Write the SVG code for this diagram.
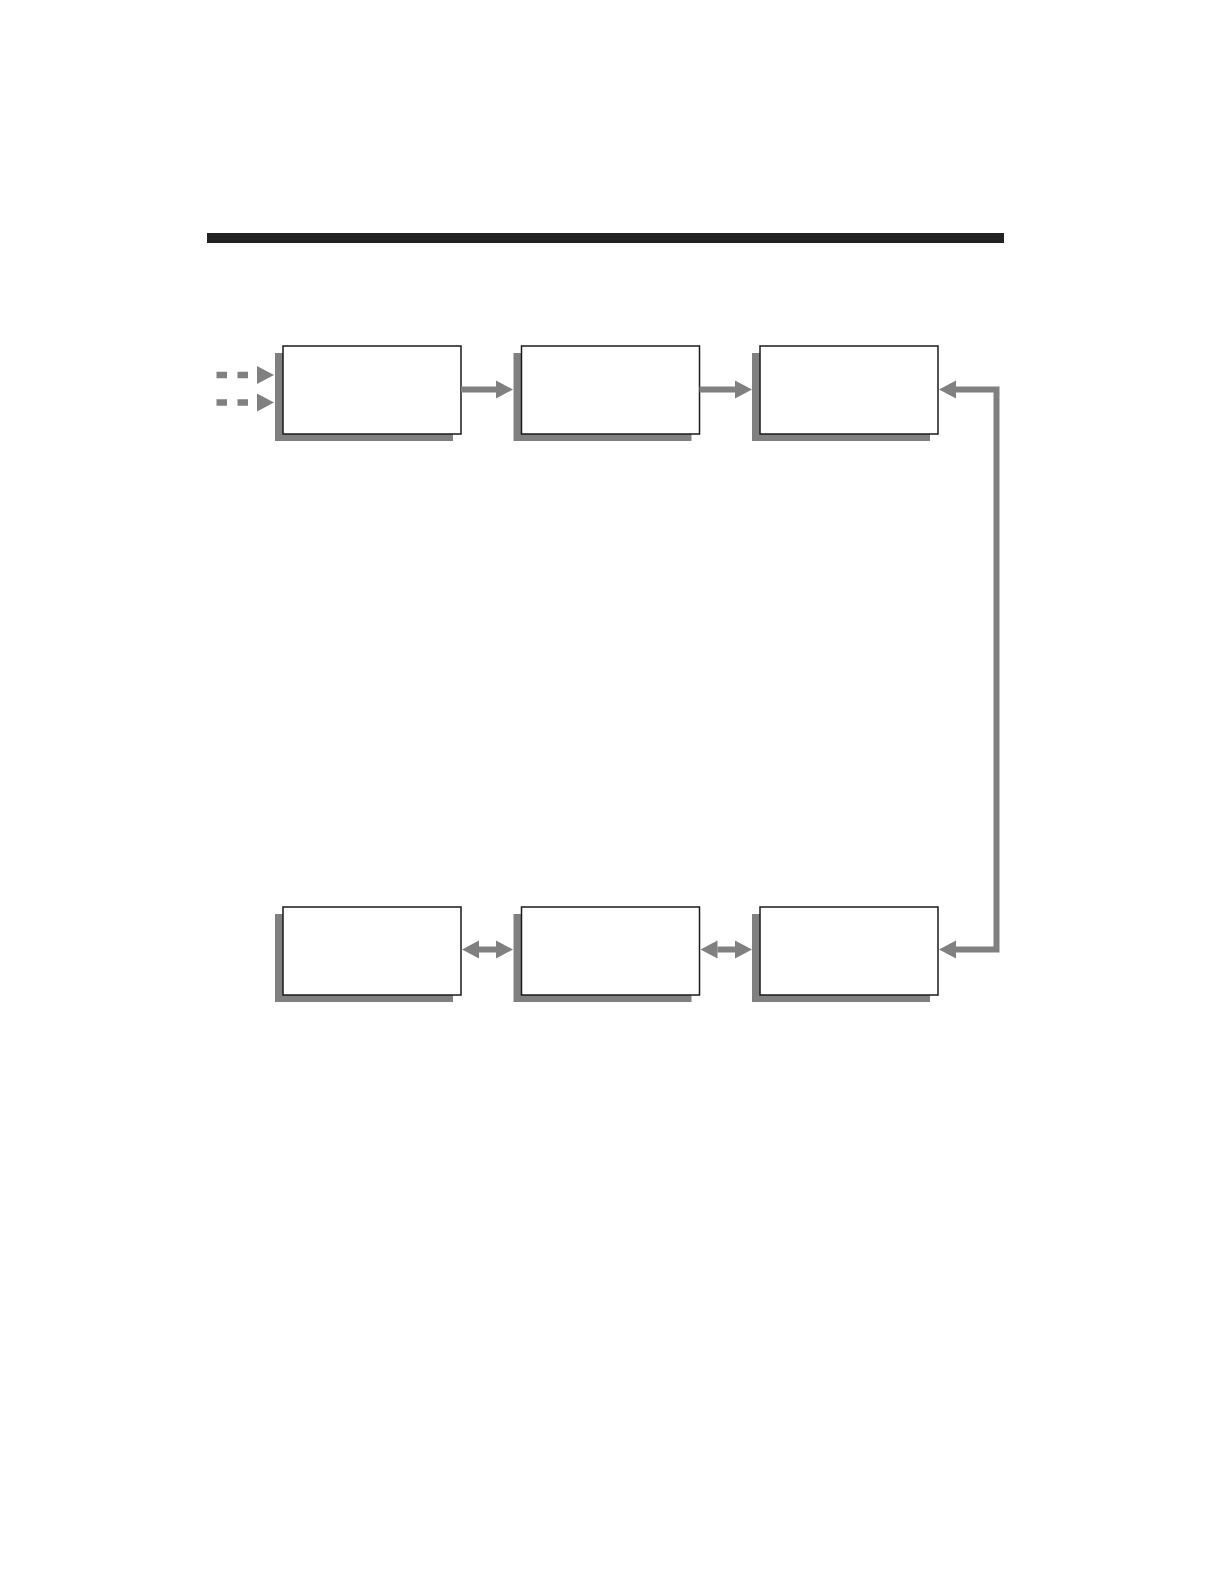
<svg xmlns="http://www.w3.org/2000/svg" width="1224" height="1584" viewBox="0 0 1224 1584">
<style>
.shadow{fill:#808080}
.box{fill:#fff;stroke:#1a1a1a;stroke-width:1.5}
.conn{fill:none;stroke:#808080;stroke-width:6}
.dash{fill:none;stroke:#808080;stroke-width:6.5;stroke-dasharray:10.5 10.5}
</style>
<defs>
<marker id="ah" markerUnits="userSpaceOnUse" markerWidth="17" markerHeight="18" viewBox="0 0 17 18" refX="0" refY="9" orient="auto-start-reverse" overflow="visible">
<path d="M0,0 L17,9 L0,18 Z" fill="#808080"/>
</marker>
</defs>
<rect width="1224" height="1584" fill="#fff"/>
<rect id="title-bar" x="207" y="233" width="797" height="10" fill="#222"/>

<g id="node-1"><rect class="shadow" x="275" y="353" width="178" height="88"/><rect class="box" x="283" y="346" width="178" height="88"/></g>
<g id="node-2"><rect class="shadow" x="513.5" y="353" width="178" height="88"/><rect class="box" x="521.5" y="346" width="178" height="88"/></g>
<g id="node-3"><rect class="shadow" x="752" y="353" width="178" height="88"/><rect class="box" x="760" y="346" width="178" height="88"/></g>
<g id="node-4"><rect class="shadow" x="275" y="914" width="178" height="88"/><rect class="box" x="283" y="907" width="178" height="88"/></g>
<g id="node-5"><rect class="shadow" x="513.5" y="914" width="178" height="88"/><rect class="box" x="521.5" y="907" width="178" height="88"/></g>
<g id="node-6"><rect class="shadow" x="752" y="914" width="178" height="88"/><rect class="box" x="760" y="907" width="178" height="88"/></g>

<g id="connectors">
<path class="dash" d="M216.5,375 H257" marker-end="url(#ah)"/>
<path class="dash" d="M216.5,402.5 H257" marker-end="url(#ah)"/>
<path class="conn" d="M461,389.5 H496" marker-end="url(#ah)"/>
<path class="conn" d="M699.5,389.5 H735" marker-end="url(#ah)"/>
<path class="conn" d="M956,949.5 H996.5 V389.5 H956" marker-start="url(#ah)" marker-end="url(#ah)"/>
<path class="conn" d="M479,949.5 H496" marker-start="url(#ah)" marker-end="url(#ah)"/>
<path class="conn" d="M717.5,949.5 H735" marker-start="url(#ah)" marker-end="url(#ah)"/>
</g>
</svg>
